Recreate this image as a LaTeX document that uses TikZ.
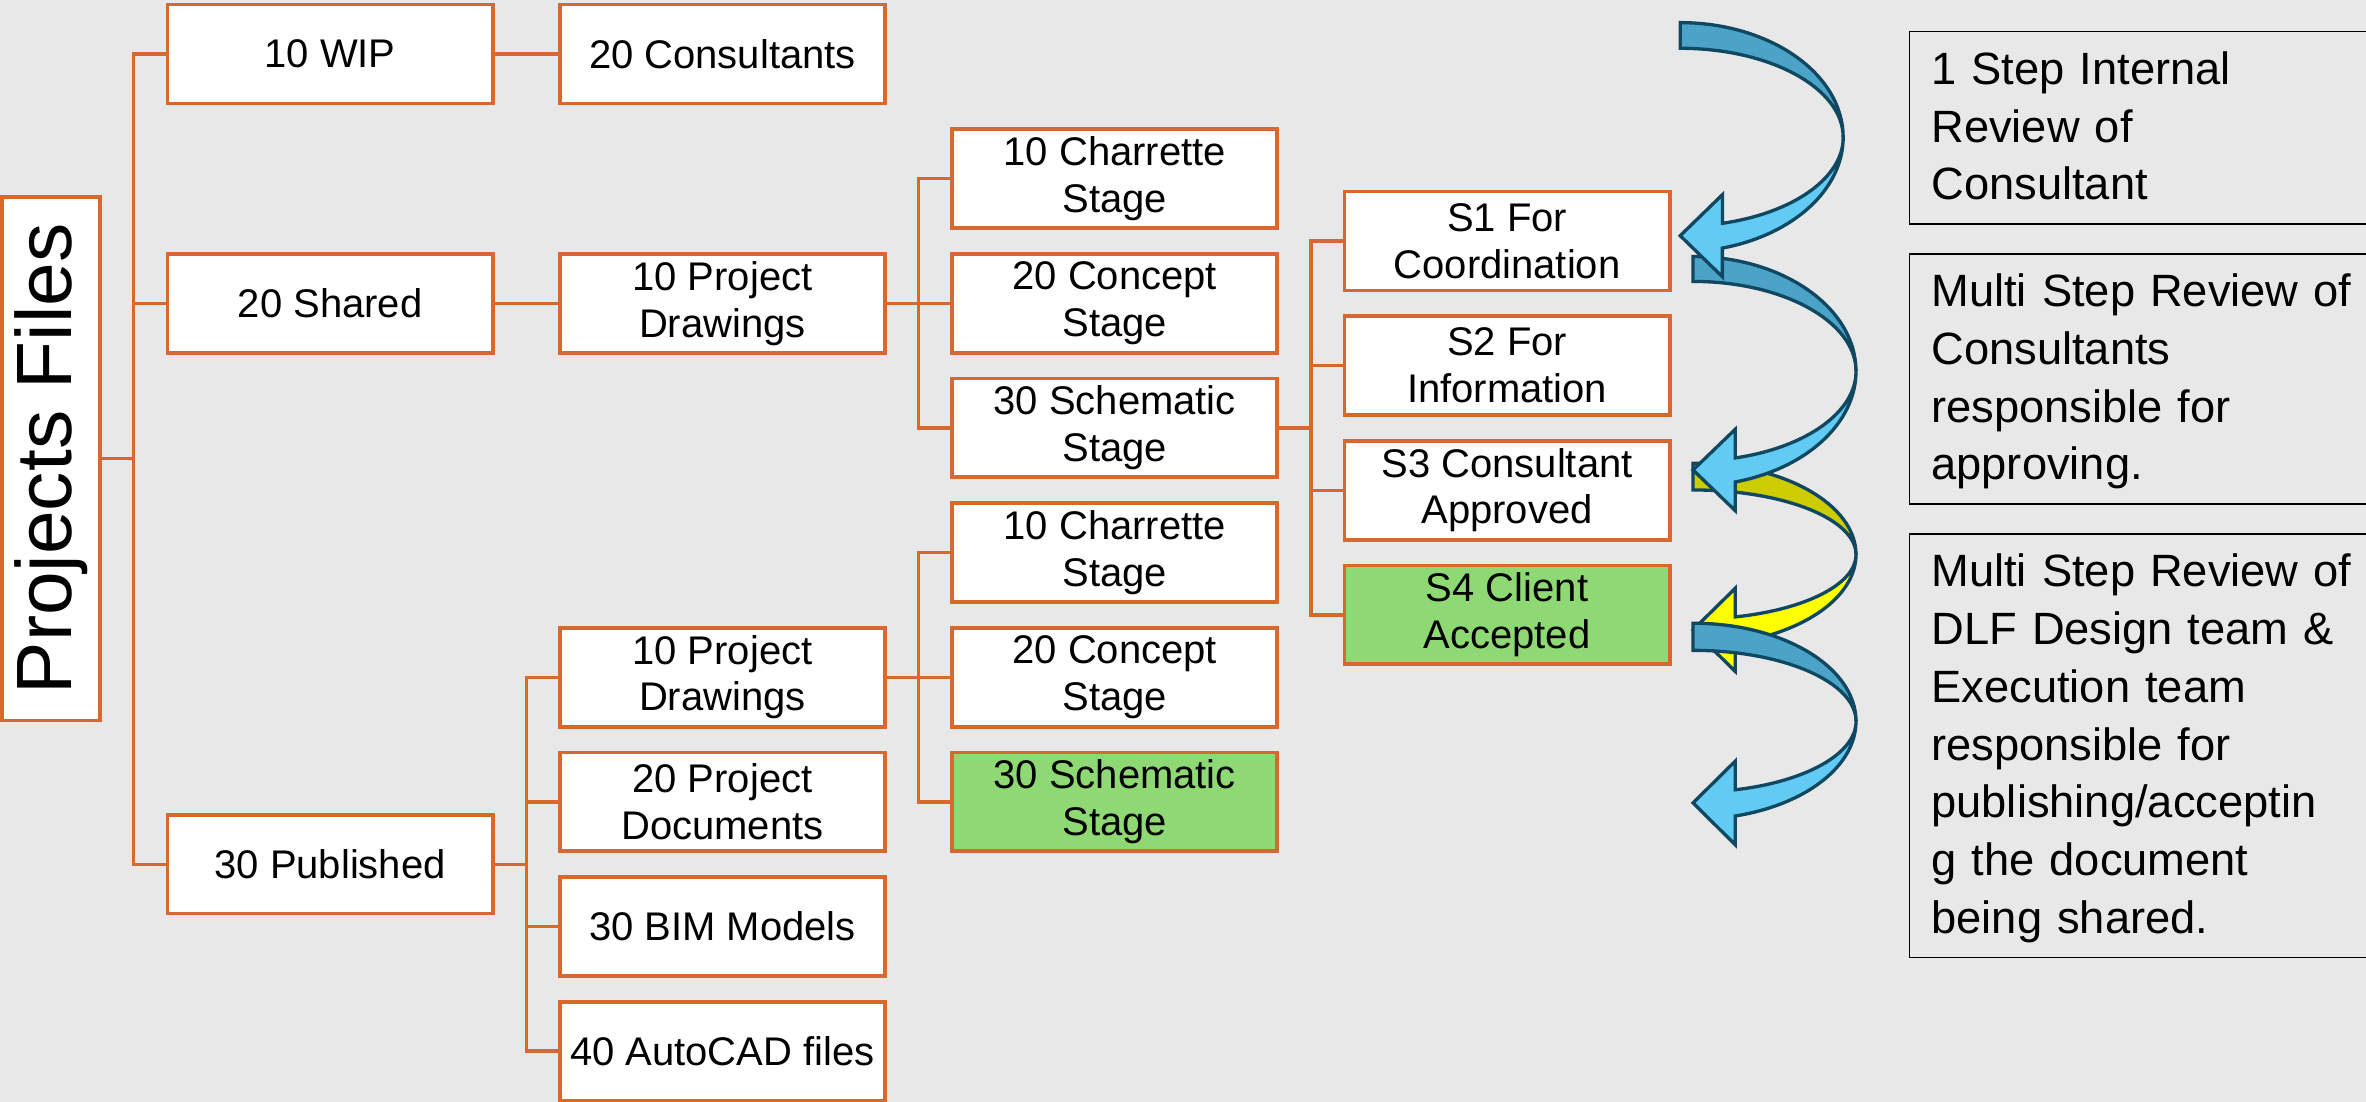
\documentclass[tikz,border=0pt]{standalone}
\usepackage{fontspec}
\setmainfont{Liberation Sans}
\usepackage{graphicx}
\usetikzlibrary{positioning}

\definecolor{orng}{RGB}{214,104,48}
\definecolor{leaf}{HTML}{8ED973}
\definecolor{paper}{HTML}{E8E8E8}
\definecolor{skyback}{HTML}{4BA3C7}
\definecolor{skyfront}{HTML}{61CBF3}
\definecolor{rimblue}{RGB}{16,72,98}
\definecolor{yelback}{HTML}{CCCC00}
\definecolor{yelfront}{HTML}{FFFF00}

% twisted arrow: x, y of centre, outer and inner half height, back and front fill
\newcommand{\twistarrow}[6]{%
  \filldraw[draw=rimblue, line width=2.2pt, fill=#5]
    (#1,{#2-#3}) arc[start angle=-90, end angle=0, x radius=108, y radius=#3]
    arc[start angle=0, end angle=-90, x radius=108, y radius=#4] -- cycle;
  \filldraw[draw=rimblue, line width=2.2pt, fill=#6]
    ({#1+108},#2) arc[start angle=0, end angle=75, x radius=108, y radius=#3]
    -- ++(0,19) -- (#1,{#2+0.966*(#3+#4)/2}) -- ({#1+28},{#2+0.966*#4-19})
    -- ++(0,19) arc[start angle=75, end angle=0, x radius=108, y radius=#4] -- cycle;
}

\begin{document}
\begin{tikzpicture}[x=1pt, y=-1pt, node distance=14.6pt and 42pt,
    box/.style={draw=orng, line width=2.5pt, fill=white, minimum width=215.5pt, minimum height=65.5pt,
      inner sep=2pt, align=center, font=\fontsize{26.5}{31}\selectfont},
    done/.style={box, fill=leaf},
    link/.style={draw=orng, line width=2.2pt},
    note/.style={draw=black, line width=1pt, anchor=north west, text width=290pt, align=left,
      inner xsep=14.5pt, inner ysep=12pt, text height=23pt, font=\fontsize{30}{38.3}\selectfont}]
    \useasboundingbox (0,0) rectangle (1568,730);
    \fill[paper] (0,0) rectangle (1568,730);
    \clip (0,0) rectangle (1568,730);

    \node[draw=orng, line width=2.5pt, fill=white, minimum width=65pt, minimum height=347pt, inner sep=0pt,
      font=\fontsize{52}{60}\selectfont] (pf) at (33.9,304) {\rotatebox{90}{Projects Files}};

    \node[box] (wip) at (218.75,35.8) {10 WIP};
    \node[box, right=of wip] (cons) {20 Consultants};
    \node[box] (shared) at (218.75,201) {20 Shared};
    \node[box, right=of shared] (sdraw) {10 Project\\Drawings};
    \node[box, right=of sdraw] (scon) {20 Concept\\Stage};
    \node[box, above=of scon] (schar) {10 Charrette\\Stage};
    \node[box, below=of scon] (ssch) {30 Schematic\\Stage};
    \node[box] (s1) at (998.75,159.7) {S1 For\\Coordination};
    \node[box, below=of s1] (s2) {S2 For\\Information};
    \node[box, below=of s2] (s3) {S3 Consultant\\Approved};
    \node[done, below=of s3] (s4) {S4 Client\\Accepted};
    \node[box] (pub) at (218.75,572.7) {30 Published};
    \node[box] (pdraw) at (478.75,448.8) {10 Project\\Drawings};
    \node[box, below=of pdraw] (pdoc) {20 Project\\Documents};
    \node[box, below=of pdoc] (bim) {30 BIM Models};
    \node[box, below=of bim] (cad) {40 AutoCAD files};
    \node[box, right=of pdraw] (pcon) {20 Concept\\Stage};
    \node[box, above=of pcon] (pchar) {10 Charrette\\Stage};
    \node[done, below=of pcon] (psch) {30 Schematic\\Stage};

    \coordinate (spine) at ([xshift=21pt]pf.east);
    \coordinate (sfork) at ([xshift=21pt]sdraw.east);
    \coordinate (stfork) at ([xshift=21pt]ssch.east);
    \coordinate (pfork) at ([xshift=21pt]pub.east);
    \coordinate (pdfork) at ([xshift=21pt]pdraw.east);
    \foreach \n in {wip,shared,pub} \draw[link] (pf.east) -- (spine) |- (\n.west);
    \draw[link] (wip) -- (cons);
    \draw[link] (shared) -- (sdraw);
    \foreach \n in {schar,scon,ssch} \draw[link] (sdraw.east) -- (sfork) |- (\n.west);
    \foreach \n in {s1,s2,s3,s4} \draw[link] (ssch.east) -- (stfork) |- (\n.west);
    \foreach \n in {pdraw,pdoc,bim,cad} \draw[link] (pub.east) -- (pfork) |- (\n.west);
    \foreach \n in {pchar,pcon,psch} \draw[link] (pdraw.east) -- (pdfork) |- (\n.west);

    \twistarrow{1122}{367.5}{60.5}{42.8}{yelback}{yelfront}
    \twistarrow{1122}{246}{76}{59.5}{skyback}{skyfront}
    \twistarrow{1113.5}{91}{76}{59}{skyback}{skyfront}
    \twistarrow{1122}{478}{65}{47}{skyback}{skyfront}

    \node[note, text depth=80.6pt] (rev1) at (1265,20.4) {1 Step Internal\\Review of\\Consultant};
    \node[note, text depth=118.9pt] (rev2) at (1265,167.7) {Multi Step Review of\\Consultants\\responsible for\\approving.};
    \node[note, text depth=233.8pt] (rev3) at (1265,353.4) {Multi Step Review of\\DLF Design team \&\\Execution team\\responsible for\\publishing/acceptin\\g the document\\being shared.};
\end{tikzpicture}
\end{document}
